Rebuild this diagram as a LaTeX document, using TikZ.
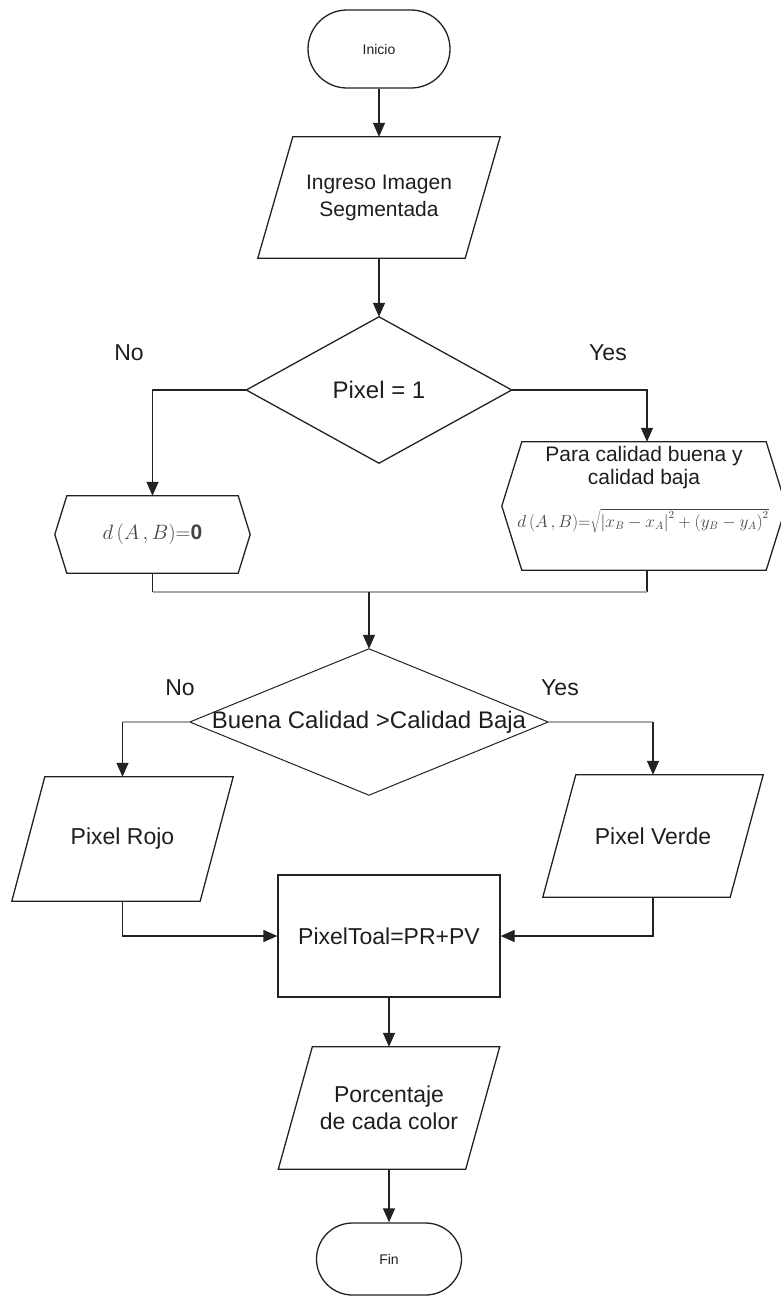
\documentclass[tikz,border=0pt]{standalone}
\usepackage{fontspec}
\setmainfont{Liberation Sans}
\usetikzlibrary{arrows.meta,shapes.misc}
\definecolor{linec}{HTML}{222222}
\definecolor{glinec}{HTML}{A8A8A8}
\definecolor{txtc}{HTML}{1E1E1E}
\definecolor{mathc}{HTML}{444444}
\begin{document}
\begin{tikzpicture}[x=1pt,y=-1pt,
  txt/.style={text=txtc,font={\fontsize{23}{27}\selectfont},align=center,inner sep=0pt},
  term/.style={draw=linec,line width=1.3pt,rounded rectangle,text=txtc,font={\fontsize{14}{16}\selectfont},inner sep=0pt},
  plain/.style={draw=none,inner sep=0pt,align=center,text=txtc},
  outline/.style={draw=linec,line width=1.3pt,line join=miter},
  thinout/.style={draw=linec,line width=1pt},
  conn/.style={draw=linec,line width=1.3pt},
  gconn/.style={draw=glinec,line width=1.6pt},
  flow/.style={draw=linec,line width=1.3pt,-{Triangle[length=14pt,width=12pt]}}
]
\useasboundingbox (0,0) rectangle (780,1299);

% nodes
\node[term,minimum width=142pt,minimum height=78pt] (inicio) at (379,49) {Inicio};
\node[plain,minimum width=242pt,minimum height=121pt,font={\fontsize{21}{27}\selectfont}] (ingreso) at (379,197.5) {Ingreso Imagen\\Segmentada};
\node[plain,minimum width=265pt,minimum height=146pt,font={\fontsize{24}{28}\selectfont}] (d1) at (379,390) {Pixel = 1};
\node[plain,minimum width=195pt,minimum height=77pt,text=mathc,font={\fontsize{21}{25}\selectfont}] (dbox) at (152.5,534.5) {$d\,(A\,,B){=}\mathbf{0}$};
\node[plain,minimum width=284pt,minimum height=128pt] (rbox) at (644,506) {};
\node[plain,font={\fontsize{21}{23}\selectfont}] (rt1) at (644,468) {Para calidad buena y\\calidad baja};
\node[plain,text=mathc,font={\fontsize{16}{18}\selectfont}] (rt2) at (643,521) {$d\,(A\,,B){=}\sqrt{\left|x_B-x_A\right|^2+\left(y_B-y_A\right)^2}$};
\node[plain,minimum width=358pt,minimum height=146pt,font={\fontsize{24}{28}\selectfont}] (d2) at (369,722) {Buena Calidad >Calidad Baja};
\node[plain,minimum width=221pt,minimum height=124pt,font={\fontsize{23}{27}\selectfont}] (rojo) at (122.5,839) {Pixel Rojo};
\node[plain,minimum width=220pt,minimum height=122pt,font={\fontsize{23}{27}\selectfont}] (verde) at (653,836) {Pixel Verde};
\node[plain,draw=linec,line width=1.3pt,minimum width=222pt,minimum height=122pt,font={\fontsize{23}{27}\selectfont}] (sum) at (389,936) {PixelToal=PR+PV};
\node[plain,minimum width=221pt,minimum height=122pt,font={\fontsize{23}{27}\selectfont}] (porc) at (389,1108) {Porcentaje\\de cada color};
\node[term,minimum width=145pt,minimum height=72pt] (fin) at (389,1259) {Fin};

% labels
\node[txt] (no1) at (129,353) {No};
\node[txt] (yes1) at (608,353) {Yes};
\node[txt] (no2) at (180,688) {No};
\node[txt] (yes2) at (560,688) {Yes};

% shapes
\draw[outline] ([xshift=35pt]ingreso.north west) -- (ingreso.north east) -- ([xshift=-35pt]ingreso.south east) -- (ingreso.south west) -- cycle;
\draw[outline] (d1.north) -- (d1.east) -- (d1.south) -- (d1.west) -- cycle;
\draw[outline] (dbox.west) -- ([xshift=12pt]dbox.north west) -- ([xshift=-12pt]dbox.north east) -- (dbox.east) -- ([xshift=-12pt]dbox.south east) -- ([xshift=12pt]dbox.south west) -- cycle;
\draw[outline] (rbox.west) -- ([xshift=20pt]rbox.north west) -- ([xshift=-20pt]rbox.north east) -- (rbox.east) -- ([xshift=-20pt]rbox.south east) -- ([xshift=20pt]rbox.south west) -- cycle;
\draw[thinout] (d2.north) -- (d2.east) -- (d2.south) -- (d2.west) -- cycle;
\draw[outline] ([xshift=33pt]rojo.north west) -- (rojo.north east) -- ([xshift=-33pt]rojo.south east) -- (rojo.south west) -- cycle;
\draw[outline] ([xshift=33pt]verde.north west) -- (verde.north east) -- ([xshift=-33pt]verde.south east) -- (verde.south west) -- cycle;
\draw[outline] ([xshift=34pt]porc.north west) -- (porc.north east) -- ([xshift=-34pt]porc.south east) -- (porc.south west) -- cycle;

% connectors
\draw[flow] (inicio.south) -- (ingreso.north);
\draw[flow] (ingreso.south) -- (d1.north);
\draw[flow] (d1.west) -| (dbox.north);
\draw[flow] (d1.east) -| ([xshift=3pt]rbox.north);
\coordinate (jl) at (152.5,592);
\coordinate (jr) at (647,592);
\draw[conn] (dbox.south) -- (jl);
\draw[conn] ([xshift=3pt]rbox.south) -- (jr);
\draw[gconn] (jl) -- (jr);
\draw[flow] (d2.north |- jl) -- (d2.north);
\coordinate (gl) at (122.5,722);
\coordinate (gr) at (653,722);
\draw[gconn] (d2.west) -- (gl);
\draw[gconn] (d2.east) -- (gr);
\draw[flow] (gl) -- (rojo.north);
\draw[flow] (gr) -- (verde.north);
\draw[flow] (rojo.south) |- (sum.west);
\draw[flow] (verde.south) |- (sum.east);
\draw[flow] (sum.south) -- (porc.north);
\draw[flow] (porc.south) -- (fin.north);
\end{tikzpicture}
\end{document}
